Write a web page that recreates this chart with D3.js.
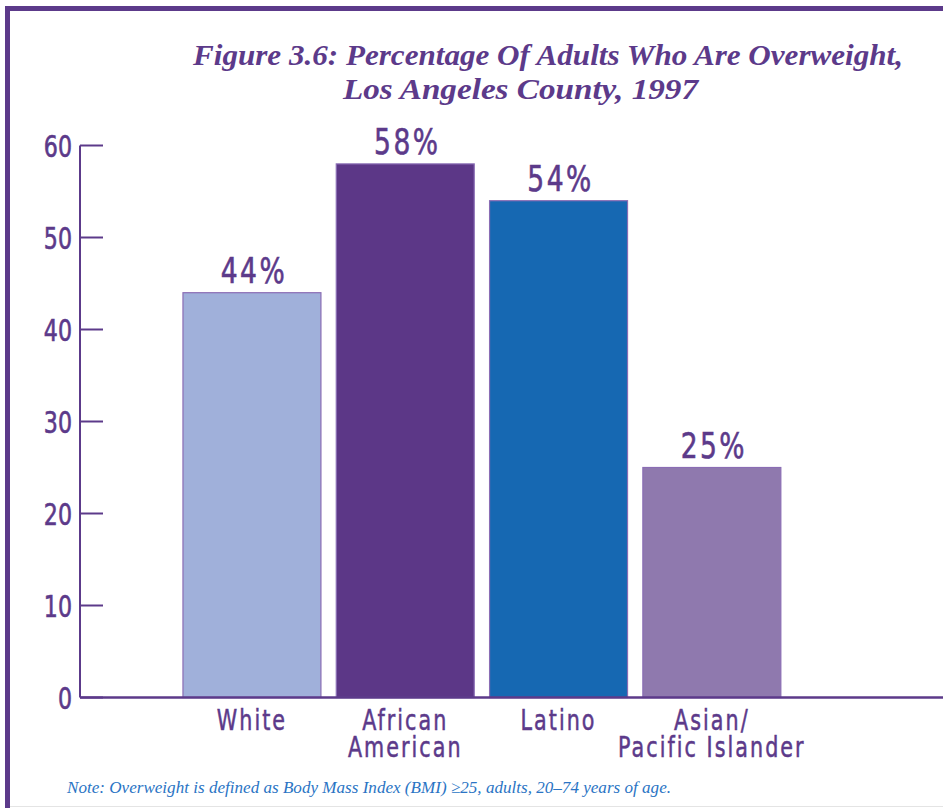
<!DOCTYPE html>
<html>
<head>
<meta charset="utf-8">
<script src="https://cdn.jsdelivr.net/npm/d3@7"></script>
<style>
  html, body { margin: 0; padding: 0; background: #fff; }
  svg { display: block; }
</style>
</head>
<body>
<svg id="chart" width="943" height="808"></svg>
<script>
const categories = ["White", "African American", "Latino", "Asian/ Pacific Islander"];
const categoryLines = [["White"], ["African", "American"], ["Latino"], ["Asian/", "Pacific Islander"]];
const values = [44, 58, 54, 25];
const valueLabels = ["44%", "58%", "54%", "25%"];
const barColors = ["#a0b0da", "#5c3787", "#1668b2", "#8f79ae"];
const yTicks = [0, 10, 20, 30, 40, 50, 60];
const titleLines = ["Figure 3.6: Percentage Of Adults Who Are Overweight,", "Los Angeles County, 1997"];
const noteText = "Note: Overweight is defined as Body Mass Index (BMI) \u226525, adults, 20\u201374 years of age.";

const purple = "#5c3a8a";
const labelFont = "'DejaVu Sans Condensed', 'DejaVu Sans', sans-serif";
const sx = 0.82;
const svg = d3.select("#chart");

// frame
svg.append("rect").attr("x", 5).attr("y", 6).attr("width", 950).attr("height", 5).attr("fill", purple);
svg.append("rect").attr("x", 5).attr("y", 6).attr("width", 5).attr("height", 810).attr("fill", purple);
svg.append("line").attr("x1", 10).attr("x2", 943).attr("y1", 806.5).attr("y2", 806.5)
  .attr("stroke", "#e4e4e4").attr("stroke-width", 1);

// title
svg.append("text").attr("x", 193).attr("y", 65)
  .attr("font-family", "'Liberation Serif', serif").attr("font-style", "italic").attr("font-weight", "bold")
  .attr("font-size", 30).attr("fill", purple)
  .attr("textLength", 710).attr("lengthAdjust", "spacingAndGlyphs").text(titleLines[0]);
svg.append("text").attr("x", 343).attr("y", 99)
  .attr("font-family", "'Liberation Serif', serif").attr("font-style", "italic").attr("font-weight", "bold")
  .attr("font-size", 30).attr("fill", purple)
  .attr("textLength", 355).attr("lengthAdjust", "spacingAndGlyphs").text(titleLines[1]);

// scales
const y = d3.scaleLinear().domain([0, 60]).range([697.5, 145.5]);
const x = d3.scaleBand().domain(categories).range([175.3, 788.5]).paddingInner(0.1).paddingOuter(0.05);

// y axis
const yAxis = d3.axisLeft(y).tickValues(yTicks).tickSize(0).tickPadding(8);
const gy = svg.append("g").attr("transform", "translate(80,0)").call(yAxis);
gy.select(".domain").remove();
gy.selectAll("text").attr("font-family", labelFont).attr("font-size", 30).attr("fill", purple)
  .attr("stroke", purple).attr("stroke-width", 0.6)
  .attr("x", -8 / sx).attr("dy", "0.36em").attr("transform", `scale(${sx},1)`);
svg.append("line").attr("x1", 80).attr("x2", 80).attr("y1", y(60)).attr("y2", y(0))
  .attr("stroke", purple).attr("stroke-width", 2);
svg.selectAll(".ytick").data(yTicks).join("line").attr("class", "ytick")
  .attr("x1", 80).attr("x2", 103).attr("y1", d => y(d)).attr("y2", d => y(d))
  .attr("stroke", purple).attr("stroke-width", 2);

// bars
const data = categories.map((c, i) => ({ c, v: values[i], label: valueLabels[i], color: barColors[i], lines: categoryLines[i] }));
svg.selectAll(".bar").data(data).join("rect").attr("class", "bar")
  .attr("x", d => x(d.c)).attr("width", x.bandwidth())
  .attr("y", d => y(d.v)).attr("height", d => y(0) - y(d.v))
  .attr("fill", d => d.color).attr("stroke", "#8a6db4").attr("stroke-width", 1.2);

// baseline
svg.append("line").attr("x1", 80).attr("x2", 943).attr("y1", y(0)).attr("y2", y(0))
  .attr("stroke", purple).attr("stroke-width", 2.5);

// value labels
svg.selectAll(".vlab").data(data).join("text").attr("class", "vlab")
  .attr("transform", d => `translate(${x(d.c) + x.bandwidth() / 2 + 2},${y(d.v) - 10}) scale(${sx},1)`)
  .attr("text-anchor", "middle").attr("font-family", labelFont).attr("font-size", 36)
  .attr("letter-spacing", 3).attr("stroke", purple).attr("stroke-width", 0.6)
  .attr("fill", purple).text(d => d.label);

// category labels
const cg = svg.selectAll(".clab").data(data).join("g").attr("class", "clab")
  .attr("transform", d => `translate(${x(d.c) + x.bandwidth() / 2},0)`);
cg.selectAll("text").data(d => d.lines).join("text")
  .attr("transform", (d, i) => `translate(0,${730 + i * 27}) scale(${sx},1)`)
  .attr("text-anchor", "middle").attr("font-family", labelFont).attr("font-size", 28)
  .attr("letter-spacing", 2.5).attr("stroke", purple).attr("stroke-width", 0.5)
  .attr("fill", purple).text(d => d);

// note
svg.append("text").attr("x", 67).attr("y", 793)
  .attr("font-family", "'Liberation Serif', serif").attr("font-style", "italic")
  .attr("font-size", 17).attr("fill", "#2a74c4")
  .attr("textLength", 604).attr("lengthAdjust", "spacingAndGlyphs").text(noteText);
</script>
</body>
</html>
